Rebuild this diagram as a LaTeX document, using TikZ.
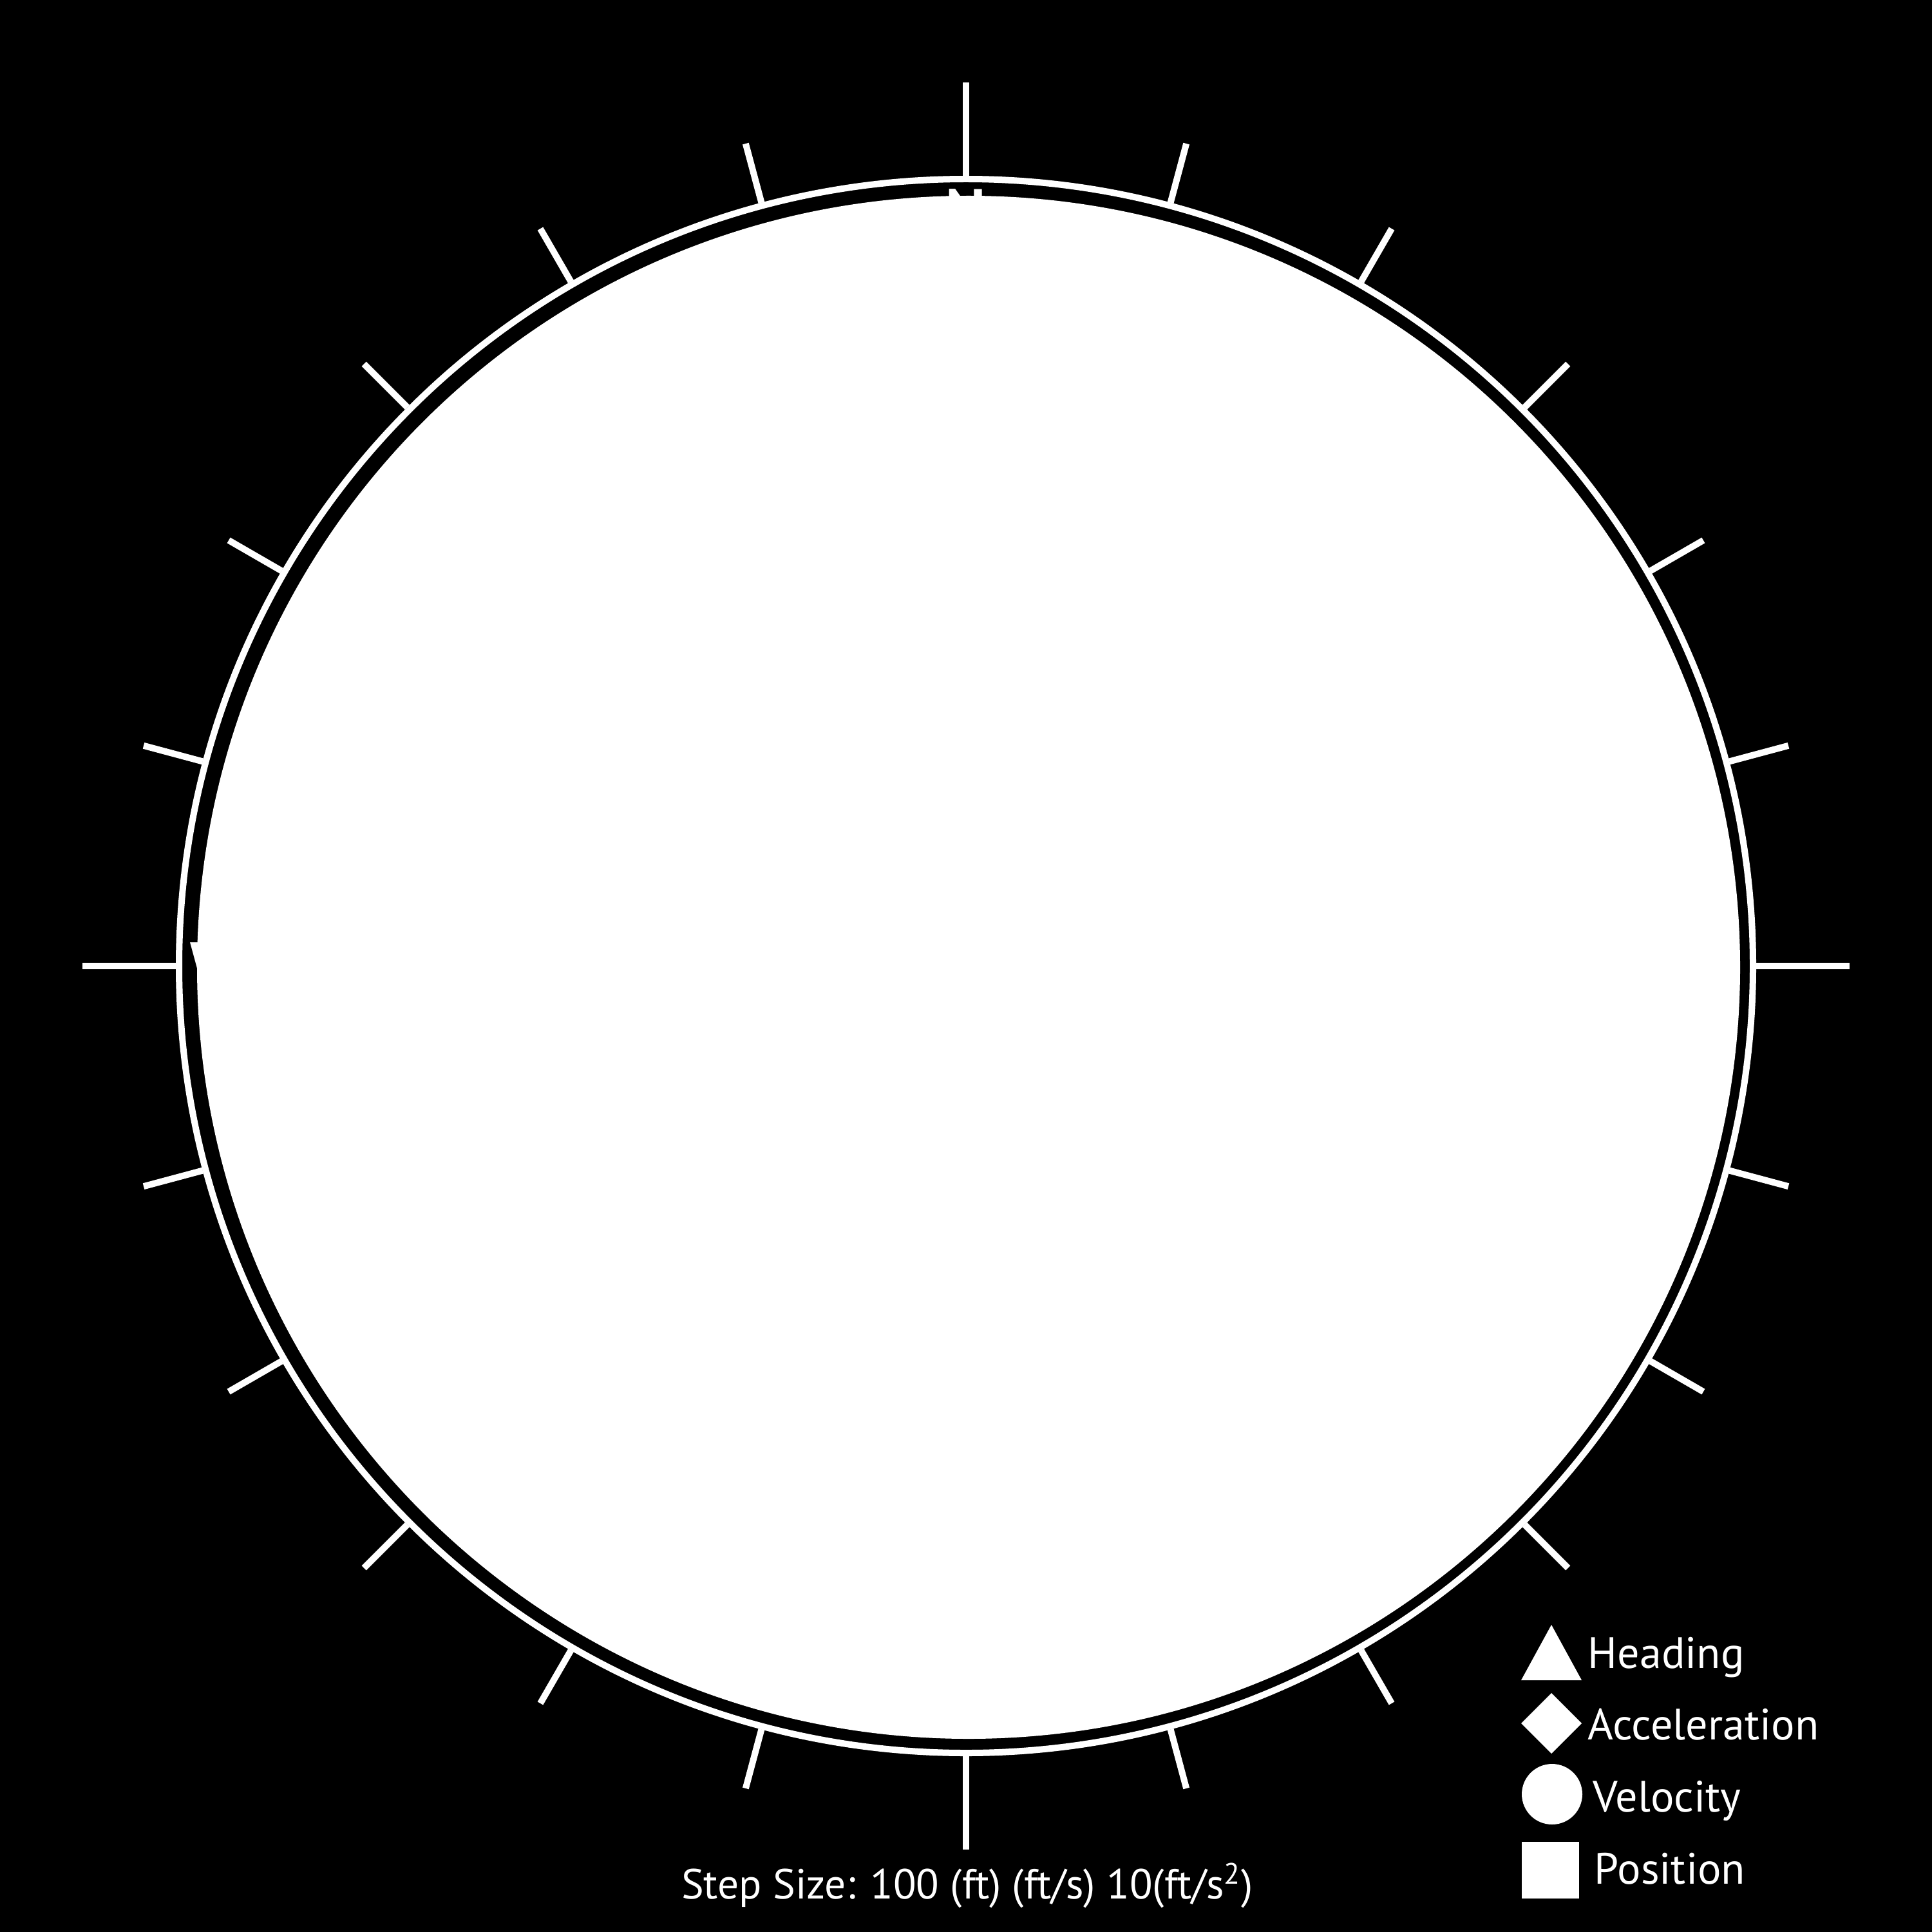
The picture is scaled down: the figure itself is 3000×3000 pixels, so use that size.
\documentclass[tikz,border=0pt]{standalone}
\usepackage{fontspec}
\setmainfont{PT Sans}
\begin{document}
\begin{tikzpicture}[x=0.1mm,y=-0.1mm,
  tickline/.style={white,line width=10*0.1mm},
  ringline/.style={white,line width=10*0.1mm},
  legendtext/.style={white,anchor=base west,inner sep=0pt,font=\fontsize{19.4}{21}\selectfont},
  symb/.style={fill=white,draw=none}]
\fill[black] (0,0) rectangle (3000,3000);
\useasboundingbox (0,0) rectangle (3000,3000);
% ring
\draw[ringline] (1500,1500) circle[radius=1222*0.1mm];
% ticks
\foreach \a in {0,90,180,270}{
  \draw[tickline] ({1500+1227*sin(\a)},{1500-1227*cos(\a)}) -- ({1500+1372*sin(\a)},{1500-1372*cos(\a)});
}
\foreach \a in {15,30,45,60,75,105,120,135,150,165,195,210,225,240,255,285,300,315,330,345}{
  \draw[tickline] ({1500+1227*sin(\a)},{1500-1227*cos(\a)}) -- ({1500+1322*sin(\a)},{1500-1322*cos(\a)});
}
% hidden compass letters
\node[white,anchor=north,inner sep=0pt,font=\fontsize{27}{30}\selectfont\bfseries] (n) at (1500,293) {N};
\node[white,anchor=north west,inner sep=0pt,font=\fontsize{30}{30}\selectfont\bfseries] (w) at (295,1463) {W};
% disk
\fill[white] (1504,1502) circle[radius=1198*0.1mm];
% legend
\fill[symb] (2362,2609) -- (2456,2609) -- (2409,2523) -- cycle;
\fill[symb] (2409,2629) -- (2456,2676) -- (2409,2723) -- (2362,2676) -- cycle;
\fill[symb] (2410,2786) circle[radius=47*0.1mm];
\fill[symb] (2363,2860) rectangle (2452,2948);
\node[legendtext] (heading) at (2465,2590) {Heading};
\node[legendtext] (accel) at (2465,2701) {Acceleration};
\node[legendtext] (vel) at (2473,2813) {Velocity};
\node[legendtext] (pos) at (2475,2925) {Position};
\node[white,anchor=base,inner sep=0pt,font=\fontsize{18.6}{21}\selectfont] (step) at (1502,2948) {Step Size: 100 (ft) (ft/s) 10(ft/s\textsuperscript{2})};
\end{tikzpicture}
\end{document}
